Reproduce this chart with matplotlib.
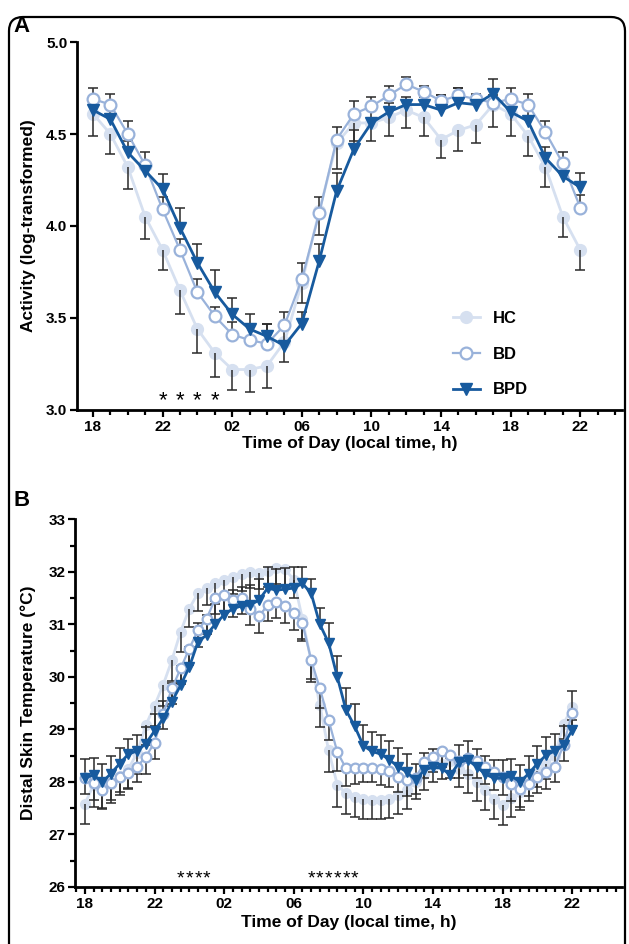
import matplotlib
matplotlib.use('Agg')
import matplotlib.pyplot as plt
from matplotlib.patches import FancyBboxPatch
from matplotlib.ticker import MultipleLocator, FormatStrFormatter

plt.rcParams['font.family'] = ['Liberation Sans', 'DejaVu Sans']
plt.rcParams['font.weight'] = 'bold'

# ---- data, panel A (hourly, 18h .. 22h next day) ----
hours_a = list(range(18, 47))
hc_a = [4.61, 4.50, 4.32, 4.05, 3.87, 3.65, 3.44, 3.31, 3.22, 3.22, 3.24, 3.37, 3.69, 4.08,
        4.45, 4.56, 4.56, 4.59, 4.63, 4.59, 4.47, 4.52, 4.55, 4.66, 4.61, 4.49, 4.32, 4.05, 3.87]
hc_a_err = [0.12, 0.11, 0.12, 0.12, 0.11, 0.13, 0.13, 0.13, 0.11, 0.12, 0.12, 0.11, 0.11, 0.13,
            0.14, 0.10, 0.10, 0.10, 0.10, 0.10, 0.10, 0.11, 0.10, 0.12, 0.12, 0.11, 0.11, 0.11, 0.11]
bd_a = [4.69, 4.66, 4.50, 4.33, 4.09, 3.87, 3.64, 3.51, 3.41, 3.38, 3.36, 3.46, 3.71, 4.07,
        4.47, 4.61, 4.65, 4.71, 4.77, 4.73, 4.68, 4.71, 4.69, 4.67, 4.69, 4.66, 4.51, 4.34, 4.10]
bd_a_err = [0.06, 0.06, 0.07, 0.07, 0.07, 0.06, 0.07, 0.05, 0.07, 0.09, 0.11, 0.07, 0.09, 0.09,
            0.07, 0.07, 0.05, 0.05, 0.04, 0.03, 0.03, 0.04, 0.03, 0.04, 0.06, 0.06, 0.06, 0.06, 0.07]
bpd_a = [4.63, 4.58, 4.40, 4.30, 4.20, 3.99, 3.80, 3.64, 3.52, 3.44, 3.40, 3.35, 3.47, 3.81,
         4.19, 4.42, 4.56, 4.62, 4.66, 4.66, 4.63, 4.67, 4.66, 4.72, 4.62, 4.57, 4.37, 4.27, 4.21]
bpd_a_err = [0.07, 0.06, 0.06, 0.05, 0.08, 0.11, 0.10, 0.12, 0.09, 0.08, 0.07, 0.12, 0.06, 0.09,
             0.10, 0.10, 0.08, 0.05, 0.04, 0.04, 0.08, 0.08, 0.05, 0.08, 0.07, 0.09, 0.06, 0.06, 0.08]
sig_a = [22, 23, 24, 25]

# ---- data, panel B (half-hourly, 18h .. 22h next day) ----
hours_b = [18 + 0.5 * i for i in range(57)]
hc_b = [27.58, 27.95, 27.90, 27.97, 28.12, 28.25, 28.55, 29.08, 29.45, 29.85,
        30.32, 30.86, 31.30, 31.60, 31.70, 31.78, 31.85, 31.90, 31.95, 32.00,
        31.98, 32.02, 32.07, 32.05, 31.85, 31.10, 30.30, 29.46, 28.60, 27.95,
        27.78, 27.72, 27.67, 27.65, 27.65, 27.68, 27.75, 27.84, 28.00, 28.15,
        28.30, 28.35, 28.40, 28.25, 28.15, 28.00, 27.85, 27.68, 27.56, 27.70,
        27.80, 28.05, 28.20, 28.35, 28.50, 29.10, 29.43]
hc_b_err = [0.38, 0.42, 0.40, 0.38, 0.36, 0.37, 0.40, 0.38, 0.38, 0.40,
            0.40, 0.38, 0.36, 0.35, 0.34, 0.33, 0.33, 0.32, 0.32, 0.30,
            0.30, 0.30, 0.30, 0.32, 0.34, 0.38, 0.40, 0.42, 0.42, 0.42,
            0.40, 0.38, 0.38, 0.36, 0.36, 0.36, 0.36, 0.35, 0.32, 0.30,
            0.30, 0.30, 0.32, 0.34, 0.36, 0.36, 0.38, 0.38, 0.38, 0.36,
            0.34, 0.32, 0.30, 0.30, 0.30, 0.28, 0.25]
bd_b = [28.07, 27.98, 27.84, 27.98, 28.10, 28.17, 28.29, 28.48, 28.75, 29.30,
        29.78, 30.16, 30.54, 30.89, 31.11, 31.50, 31.56, 31.46, 31.50, 31.30,
        31.15, 31.37, 31.43, 31.34, 31.21, 31.02, 30.32, 29.78, 29.18, 28.57,
        28.26, 28.27, 28.27, 28.27, 28.25, 28.20, 28.10, 28.03, 28.07, 28.38,
        28.48, 28.58, 28.52, 28.40, 28.45, 28.40, 28.29, 28.19, 28.10, 27.97,
        27.87, 27.97, 28.10, 28.18, 28.29, 28.70, 29.32]
bd_b_err = [0.30, 0.32, 0.35, 0.33, 0.30, 0.30, 0.30, 0.32, 0.32, 0.30,
            0.30, 0.30, 0.32, 0.32, 0.30, 0.30, 0.30, 0.32, 0.30, 0.32,
            0.32, 0.30, 0.30, 0.32, 0.32, 0.34, 0.36, 0.38, 0.38, 0.36,
            0.34, 0.30, 0.28, 0.28, 0.30, 0.30, 0.30, 0.30, 0.30, 0.30,
            0.30, 0.30, 0.32, 0.32, 0.32, 0.32, 0.32, 0.34, 0.34, 0.34,
            0.34, 0.34, 0.32, 0.32, 0.30, 0.30, 0.30]
bpd_b = [28.08, 28.13, 28.00, 28.16, 28.35, 28.53, 28.59, 28.73, 28.97, 29.21,
         29.53, 29.84, 30.19, 30.67, 30.80, 31.01, 31.18, 31.30, 31.35, 31.37,
         31.46, 31.69, 31.65, 31.67, 31.69, 31.78, 31.59, 31.00, 30.65, 30.00,
         29.37, 29.06, 28.69, 28.58, 28.53, 28.42, 28.29, 28.19, 28.03, 28.23,
         28.28, 28.26, 28.13, 28.37, 28.42, 28.29, 28.15, 28.07, 28.07, 28.11,
         28.00, 28.16, 28.35, 28.51, 28.59, 28.70, 28.99]
bpd_b_err = [0.36, 0.33, 0.34, 0.34, 0.30, 0.28, 0.30, 0.32, 0.32, 0.34,
             0.36, 0.36, 0.38, 0.36, 0.38, 0.38, 0.38, 0.36, 0.36, 0.38,
             0.40, 0.40, 0.40, 0.40, 0.40, 0.32, 0.28, 0.32, 0.38, 0.40,
             0.42, 0.42, 0.40, 0.38, 0.36, 0.36, 0.36, 0.34, 0.32, 0.32,
             0.34, 0.34, 0.32, 0.34, 0.36, 0.34, 0.34, 0.34, 0.34, 0.32,
             0.32, 0.34, 0.34, 0.34, 0.32, 0.36, 0.75]
sig_b = [23.5, 24, 24.5, 25, 31, 31.5, 32, 32.5, 33, 33.5]

xticks = [18, 22, 26, 30, 34, 38, 42, 46]
xticklabels = ['18', '22', '02', '06', '10', '14', '18', '22']

c_hc = '#d6e0f0'
c_bd = '#99b2da'
c_bpd = '#175a9e'
c_err = '#2a2a2a'


def err_bars(ax, x, y, e, up, cap):
    ends = [v + s if up else v - s for v, s in zip(y, e)]
    ax.vlines(x, y, ends, color=c_err, lw=1.1, zorder=2.5)
    ax.plot(x, ends, ls='none', marker='_', ms=cap, mew=1.1, color=c_err, zorder=2.5)


def draw(ax, x, hc, hce, bd, bde, bpd, bpde, bd_up, ms, cap):
    err_bars(ax, x, hc, hce, False, cap)
    err_bars(ax, x, bd, bde, bd_up, cap)
    err_bars(ax, x, bpd, bpde, True, cap)
    h1, = ax.plot(x, hc, color=c_hc, lw=2, marker='o', ms=ms, mec=c_hc, mfc=c_hc,
                  zorder=2, label='HC')
    h2, = ax.plot(x, bd, color=c_bd, lw=1.6, marker='o', ms=ms, mec=c_bd, mfc='white',
                  mew=1.6, zorder=3, label='BD')
    h3, = ax.plot(x, bpd, color=c_bpd, lw=2, marker='v', ms=ms, mec=c_bpd, mfc=c_bpd,
                  zorder=4, label='BPD')
    return [h1, h2, h3]


def style(ax, minor_x):
    for s in ['top', 'right']:
        ax.spines[s].set_visible(False)
    for s in ['left', 'bottom']:
        ax.spines[s].set_linewidth(2)
    ax.set_xticks(xticks)
    ax.set_xticklabels(xticklabels)
    ax.xaxis.set_minor_locator(MultipleLocator(minor_x))
    ax.tick_params(which='major', length=5, width=1.6, labelsize=11, pad=2)
    ax.tick_params(which='minor', length=3.5, width=1.6)
    ax.set_xlabel('Time of Day (local time, h)', fontsize=12.5, fontweight='bold')


fig = plt.figure(figsize=(6.29, 9.44), dpi=100)

frame = FancyBboxPatch((0.09, -0.6), 6.16, 9.87, boxstyle='round,pad=0,rounding_size=0.14',
                       transform=fig.dpi_scale_trans, fill=False, lw=1.6, ec='black')
fig.add_artist(frame)

# panel A
axA = fig.add_axes([0.1224, 0.5657, 0.8665, 0.3898])
handles = draw(axA, hours_a, hc_a, hc_a_err, bd_a, bd_a_err, bpd_a, bpd_a_err, True, 8.5, 7.5)
axA.set_xlim(17.08, 48.4)
axA.set_ylim(3.0, 5.0)
axA.set_yticks([3.0, 3.5, 4.0, 4.5, 5.0])
axA.yaxis.set_major_formatter(FormatStrFormatter('%.1f'))
style(axA, 1)
axA.set_ylabel('Activity (log-transformed)', fontsize=12.5, fontweight='bold')
axA.yaxis.set_label_coords(-0.075, 0.5)
axA.xaxis.set_label_coords(0.5, -0.072)
for h in sig_a:
    axA.text(h, 3.05, '*', ha='center', va='center', fontsize=16, fontweight='normal')
axA.legend(handles=handles, loc='center left', bbox_to_anchor=(0.69, 0.152), frameon=False,
           fontsize=12, labelspacing=1.25, handlelength=1.6, handletextpad=0.8,
           borderpad=0, borderaxespad=0)

# panel B
axB = fig.add_axes([0.1192, 0.0604, 0.8697, 0.3895])
draw(axB, hours_b, hc_b, hc_b_err, bd_b, bd_b_err, bpd_b, bpd_b_err, False, 7, 6.5)
axB.set_xlim(17.43, 48.86)
axB.set_ylim(26, 33)
axB.set_yticks(range(26, 34))
axB.yaxis.set_minor_locator(MultipleLocator(0.5))
style(axB, 0.5)
axB.set_ylabel('Distal Skin Temperature (°C)', fontsize=12.5, fontweight='bold')
axB.yaxis.set_label_coords(-0.071, 0.5)
axB.xaxis.set_label_coords(0.5, -0.075)
for h in sig_b:
    axB.text(h, 26.15, '*', ha='center', va='center', fontsize=14, fontweight='normal')

fig.text(0.022, 1 - 27 / 944, 'A', fontsize=16, fontweight='bold', ha='left', va='center')
fig.text(0.022, 1 - 500 / 944, 'B', fontsize=16, fontweight='bold', ha='left', va='center')

fig.savefig('out.png', dpi=100)
